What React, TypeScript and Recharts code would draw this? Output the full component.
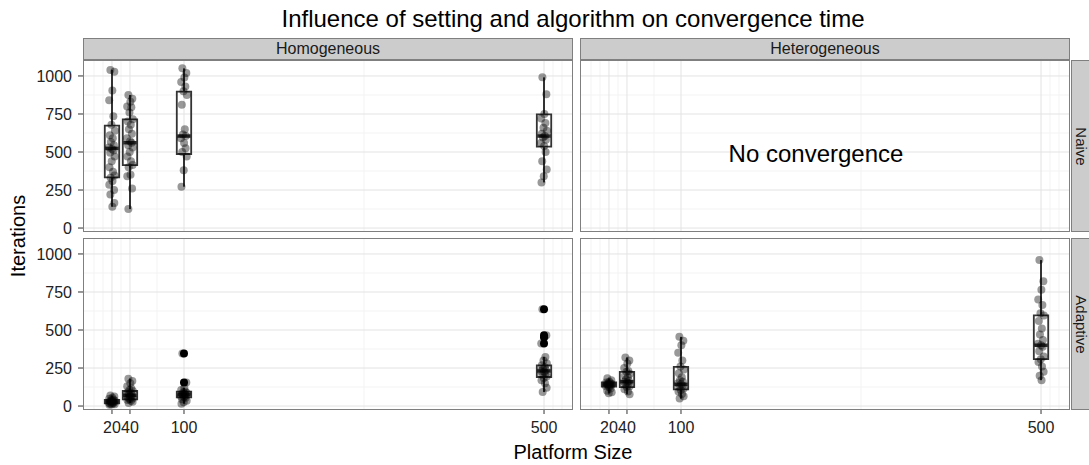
import React from "react";
import {
  ScatterChart,
  Scatter,
  XAxis,
  YAxis,
  CartesianGrid,
  ReferenceArea,
  ReferenceLine,
} from "recharts";

// platform sizes (x categories) and axis breaks
const sizes = [20, 40, 100, 500];
const xTicks = [20, 40, 100, 500];
const xMinor = [0, 10, 30, 70, 300, 510, 520];
const yTicks = [0, 250, 500, 750, 1000];
const yMinor = [125, 375, 625, 875];

// hand picked jitter offsets (in platform size units)
const jitter = [-1.8, 2.6, 0.4, -3.1, 1.5, -0.6, 3.2, -2.4, 0.9, -1.2, 2.1, -3.4, 0.1, 1.8, -2.0, 3.0, -0.3, -2.8, 1.1, 2.9, -1.5, 0.6, -3.0, 2.3];

// Homogeneous / Naive - iterations per run
const homNaive20 = [1040, 1028, 905, 840, 735, 680, 640, 610, 590, 565, 545, 530, 520, 510, 495, 470, 440, 400, 370, 345, 330, 310, 285, 250, 220, 165, 140];
const homNaive40 = [875, 850, 830, 800, 795, 760, 715, 700, 680, 650, 620, 590, 570, 561, 545, 530, 500, 470, 440, 415, 400, 350, 340, 260, 125];
const homNaive100 = [1050, 1020, 990, 960, 930, 900, 875, 810, 650, 615, 605, 590, 560, 525, 500, 470, 380, 272];
const homNaive500 = [991, 880, 750, 720, 690, 660, 640, 620, 605, 595, 580, 560, 540, 500, 440, 385, 340, 300];
// box stats: [lower whisker, Q1, median, Q3, upper whisker]
const homNaiveBoxes = [
  [140, 333, 524, 673, 1040],
  [125, 414, 561, 715, 875],
  [272, 487, 605, 897, 1050],
  [300, 535, 605, 748, 991],
];

// Homogeneous / Adaptive
const homAdapt20 = [70, 62, 55, 48, 42, 38, 35, 32, 30, 28, 25, 22, 20, 18, 15, 12, 10, 8];
const homAdapt40 = [180, 165, 150, 130, 115, 105, 99, 90, 85, 78, 72, 70, 65, 60, 55, 50, 45, 40, 35, 28, 20];
const homAdapt100 = [345, 155, 120, 105, 95, 90, 85, 80, 77, 75, 70, 65, 60, 55, 45, 35, 25, 15];
const homAdapt500 = [637, 466, 452, 411, 323, 300, 280, 268, 255, 245, 235, 231, 225, 215, 205, 195, 185, 170, 150, 120, 92];
const homAdaptBoxes = [
  [8, 18, 29, 40, 70],
  [20, 44, 70, 99, 180],
  [15, 58, 77, 95, 120],
  [92, 191, 231, 268, 323],
];
const homAdaptOutliers = [[], [], [345, 155], [637, 466, 452, 411]];

// Heterogeneous / Adaptive
const hetAdapt20 = [182, 170, 160, 155, 150, 148, 145, 143, 140, 138, 135, 130, 125, 115, 100, 90, 84];
const hetAdapt40 = [319, 300, 280, 250, 230, 225, 210, 200, 190, 175, 165, 160, 155, 150, 140, 130, 125, 110, 95, 77];
const hetAdapt100 = [455, 430, 400, 350, 300, 260, 240, 215, 190, 170, 160, 150, 143, 135, 125, 115, 105, 95, 80, 65, 49];
const hetAdapt500 = [960, 820, 765, 700, 665, 610, 596, 560, 510, 470, 435, 410, 400, 390, 360, 325, 308, 290, 260, 225, 200, 170];
const hetAdaptBoxes = [
  [84, 128, 143, 155, 182],
  [77, 125, 160, 225, 319],
  [49, 110, 143, 257, 455],
  [170, 308, 400, 596, 960],
];

const FONT = '"Liberation Sans", Arial, Helvetica, sans-serif';
const PANEL_W = 490;
const PANEL_H = 172;
const LEFT_X = 83;
const RIGHT_X = 580;
const TOP_Y = 60;
const BOT_Y = 238;
const Y_AXIS_W = 53;
const X_AXIS_H = 34;
const PAD = 10; // room for the edge tick labels
const X_DOMAIN: [number, number] = [-12.2, 532.2];
const Y_DOMAIN: [number, number] = [-26, 1105];
const HALF_BOX = 8;

type Group = { x: number; values: number[]; box: number[]; outliers: number[] };

function makeGroups(values: number[][], boxes: number[][], outliers?: number[][]): Group[] {
  return sizes.map((x, i) => ({ x, values: values[i] || [], box: boxes[i], outliers: outliers ? outliers[i] : [] }));
}

const dot = (p: any) => <circle cx={p.cx} cy={p.cy} r={4} fill="#000" fillOpacity={0.4} />;
const outDot = (p: any) => <circle cx={p.cx} cy={p.cy} r={4} fill="#000" />;

function Panel({ left, top, showX, showY, groups }: { left: number; top: number; showX: boolean; showY: boolean; groups: Group[] }) {
  const w = PANEL_W + (showY ? Y_AXIS_W : 0);
  const h = PANEL_H + (showX ? X_AXIS_H : PAD) + PAD;
  const points = groups.flatMap((g) => g.values.map((y, i) => ({ x: g.x + jitter[i % jitter.length], y })));
  const outliers = groups.flatMap((g) => g.outliers.map((y) => ({ x: g.x, y })));
  return (
    <>
      <div style={{ position: "absolute", left: left - (showY ? Y_AXIS_W : 0), top: top - PAD, width: w, height: h }}>
        <ScatterChart width={w} height={h} margin={{ top: PAD, right: 0, bottom: showX ? 0 : PAD, left: 0 }}>
          <CartesianGrid stroke="#f3f3f3" strokeWidth={1} verticalValues={xMinor} horizontalValues={yMinor} />
          <CartesianGrid stroke="#e3e3e3" strokeWidth={1} verticalValues={xTicks} horizontalValues={yTicks} />
          <XAxis
            type="number"
            dataKey="x"
            domain={X_DOMAIN}
            ticks={xTicks}
            interval={0}
            allowDataOverflow
            hide={!showX}
            height={X_AXIS_H}
            axisLine={false}
            tickSize={4}
            tickMargin={8}
            tickLine={{ stroke: "#333" }}
            tick={{ fill: "#222", fontSize: 16 }}
          />
          <YAxis
            type="number"
            dataKey="y"
            domain={Y_DOMAIN}
            ticks={yTicks}
            interval={0}
            allowDataOverflow
            hide={!showY}
            width={Y_AXIS_W}
            axisLine={false}
            tickSize={5}
            tickMargin={6}
            tickLine={{ stroke: "#333" }}
            tick={{ fill: "#222", fontSize: 16 }}
          />
          {groups.map((g) => (
            <ReferenceLine
              key={"wu" + g.x}
              segment={[{ x: g.x, y: g.box[3] }, { x: g.x, y: g.box[4] }]}
              stroke="#333"
              strokeWidth={2}
              ifOverflow="visible"
            />
          ))}
          {groups.map((g) => (
            <ReferenceLine
              key={"wl" + g.x}
              segment={[{ x: g.x, y: g.box[0] }, { x: g.x, y: g.box[1] }]}
              stroke="#333"
              strokeWidth={2}
              ifOverflow="visible"
            />
          ))}
          {groups.map((g) => (
            <ReferenceArea
              key={"b" + g.x}
              x1={g.x - HALF_BOX}
              x2={g.x + HALF_BOX}
              y1={g.box[1]}
              y2={g.box[3]}
              fill="none"
              fillOpacity={0}
              stroke="#333"
              strokeWidth={1.8}
              ifOverflow="visible"
            />
          ))}
          {groups.map((g) => (
            <ReferenceLine
              key={"m" + g.x}
              segment={[{ x: g.x - HALF_BOX, y: g.box[2] }, { x: g.x + HALF_BOX, y: g.box[2] }]}
              stroke="#333"
              strokeWidth={3.5}
              ifOverflow="visible"
            />
          ))}
          <Scatter data={outliers} shape={outDot} isAnimationActive={false} />
          <Scatter data={points} shape={dot} isAnimationActive={false} />
        </ScatterChart>
      </div>
      <div
        style={{
          position: "absolute",
          left,
          top,
          width: PANEL_W,
          height: PANEL_H,
          border: "1px solid #7f7f7f",
          boxSizing: "border-box",
          pointerEvents: "none",
        }}
      />
    </>
  );
}

const stripBase: React.CSSProperties = {
  position: "absolute",
  background: "#cccccc",
  border: "1px solid #7f7f7f",
  boxSizing: "border-box",
  display: "flex",
  alignItems: "center",
  justifyContent: "center",
  fontSize: 16,
  color: "#1a1a1a",
};

export default function App() {
  const homNaive = makeGroups([homNaive20, homNaive40, homNaive100, homNaive500], homNaiveBoxes);
  const homAdapt = makeGroups([homAdapt20, homAdapt40, homAdapt100, homAdapt500], homAdaptBoxes, homAdaptOutliers);
  const hetAdapt = makeGroups([hetAdapt20, hetAdapt40, hetAdapt100, hetAdapt500], hetAdaptBoxes);

  return (
    <div
      style={{
        position: "absolute",
        left: 0,
        top: 0,
        width: 1089,
        height: 465,
        background: "#fff",
        overflow: "hidden",
        fontFamily: FONT,
      }}
    >
      <div style={{ position: "absolute", left: LEFT_X, top: 5, width: 980, textAlign: "center", fontSize: 24, color: "#000" }}>
        Influence of setting and algorithm on convergence time
      </div>

      <div style={{ ...stripBase, left: LEFT_X, top: 38, width: PANEL_W, height: 22 }}>Homogeneous</div>
      <div style={{ ...stripBase, left: RIGHT_X, top: 38, width: PANEL_W, height: 22 }}>Heterogeneous</div>

      <Panel left={LEFT_X} top={TOP_Y} showX={false} showY={true} groups={homNaive} />
      <Panel left={RIGHT_X} top={TOP_Y} showX={false} showY={false} groups={[]} />
      <Panel left={LEFT_X} top={BOT_Y} showX={true} showY={true} groups={homAdapt} />
      <Panel left={RIGHT_X} top={BOT_Y} showX={true} showY={false} groups={hetAdapt} />

      <div style={{ position: "absolute", left: RIGHT_X, top: 140, width: PANEL_W - 18, textAlign: "center", fontSize: 24 }}>
        No convergence
      </div>

      <div style={{ ...stripBase, left: 1071, top: TOP_Y, width: 19, height: PANEL_H, borderRight: "none" }}>
        <span style={{ transform: "rotate(90deg)", whiteSpace: "nowrap", fontSize: 15 }}>Naive</span>
      </div>
      <div style={{ ...stripBase, left: 1071, top: BOT_Y, width: 19, height: PANEL_H, borderRight: "none" }}>
        <span style={{ transform: "rotate(90deg)", whiteSpace: "nowrap", fontSize: 15 }}>Adaptive</span>
      </div>

      <div
        style={{
          position: "absolute",
          left: 18,
          top: 236,
          transform: "translate(-50%, -50%) rotate(-90deg)",
          fontSize: 20,
          whiteSpace: "nowrap",
        }}
      >
        Iterations
      </div>
      <div style={{ position: "absolute", left: LEFT_X, top: 441, width: 980, textAlign: "center", fontSize: 20 }}>
        Platform Size
      </div>
    </div>
  );
}
